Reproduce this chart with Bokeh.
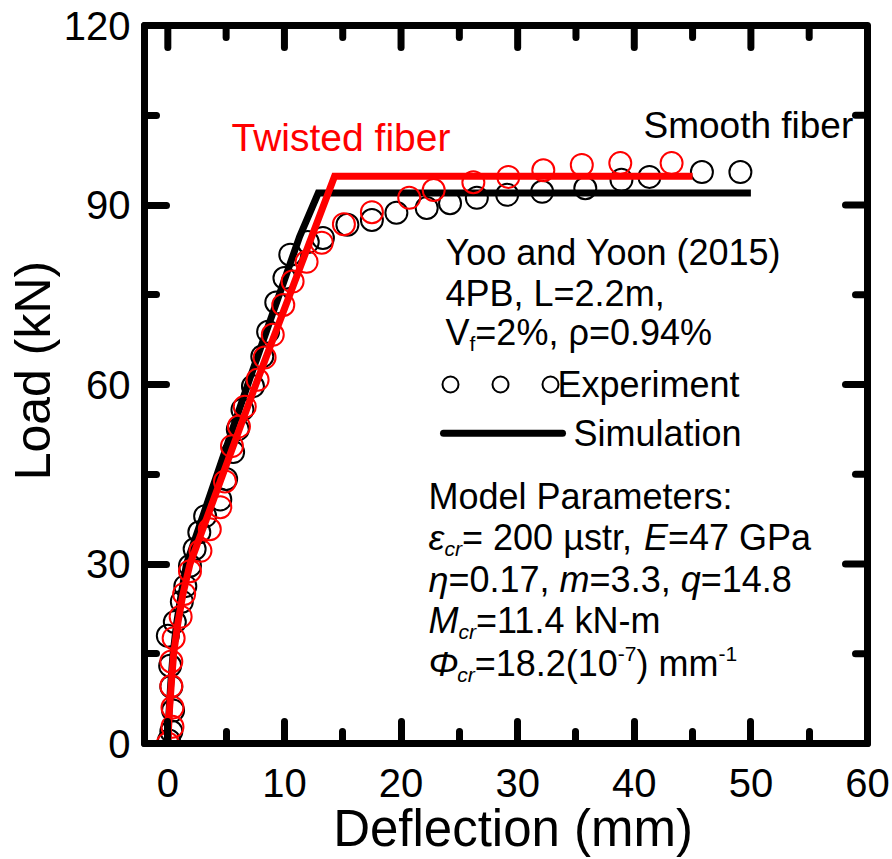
from bokeh.plotting import figure
from bokeh.models import Range1d, FixedTicker, Label
from bokeh.embed import file_html
from bokeh.resources import INLINE

# ---------------- data ----------------
smooth_x = [0.1, 0.3, 0.45, 0.3, 0.2, 0.0, 0.6, 1.2, 1.5, 1.9, 2.3, 2.7, 3.2, 4.5, 5.0, 5.6, 6.0, 6.4, 7.3,
            8.1, 8.6, 9.3, 10.0, 10.5, 12.0, 13.3, 15.4, 17.5, 19.6, 22.2, 24.2, 26.5, 29.1, 32.1, 35.8,
            38.9, 41.3, 45.8, 49.1]
smooth_y = [0.5, 2.0, 5.5, 9.5, 13.0, 18.0, 20.3, 23.7, 26.3, 29.7, 32.5, 35.3, 38.0, 40.8, 44.2, 48.7,
            52.5, 55.8, 59.7, 64.7, 68.8, 73.7, 77.8, 81.7, 83.8, 84.5, 86.7, 87.5, 88.7, 89.5, 90.3,
            91.2, 91.7, 92.2, 92.8, 94.2, 94.7, 95.5, 95.5]

twisted_x = [0, 0.4, 0.4, 0.3, 0.3, 0.5, 1.1, 1.4, 1.9, 2.8, 3.6, 4.5, 4.9, 5.5, 6.1, 6.6, 7.7, 8.3, 9.0,
             9.9, 10.7, 11.9, 13.2, 15.1, 17.5, 20.7, 22.8, 26.2, 29.2, 32.2, 35.5, 38.8, 43.2]
twisted_y = [0, 2.8, 6.0, 9.6, 13.7, 17.6, 21.2, 25.0, 28.8, 32.2, 35.8, 39.5, 43.8, 49.7, 53.0, 56.3,
             60.8, 64.5, 68.3, 73.3, 77.2, 80.5, 83.7, 86.8, 88.8, 91.2, 92.5, 93.8, 94.7, 95.8, 96.7,
             97.0, 97.0]

sim_smooth_x = [0, 0.1, 0.25, 0.45, 0.75, 1.15, 1.6, 7.0, 11.3, 12.9, 50]
sim_smooth_y = [0, 5, 10, 15, 20, 25, 30, 60.8, 84.7, 92, 92]

sim_twisted_x = [0, 0.12, 0.3, 0.5, 0.85, 1.3, 1.9, 7.6, 14.3, 45]
sim_twisted_y = [0, 5, 10, 15, 20, 25, 30, 60.3, 94.8, 94.8]

x_ticks = [0, 10, 20, 30, 40, 50, 60]
y_ticks = [0, 30, 60, 90, 120]
x_lim = (-2, 60)
y_lim = (0, 120)

# ---------------- layout ----------------
FONT = "Liberation Sans"
RED = "#ff0000"
W, H = 892, 859
FL, FT, FW, FH = 144, 25, 723, 720   # frame in canvas px
MAJ, MIN = 22, 12                    # tick lengths (px)
NB = "\u00a0"


def px2x(px):
    return x_lim[0] + (px - FL) * (x_lim[1] - x_lim[0]) / FW


def px2y(py):
    return y_lim[0] + (FT + FH - py) * (y_lim[1] - y_lim[0]) / FH


def minors(ticks):
    return [(a + b) / 2 for a, b in zip(ticks[:-1], ticks[1:])]


p = figure(width=W, height=H, x_range=Range1d(*x_lim), y_range=Range1d(*y_lim),
           output_backend="svg", toolbar_location=None,
           min_border_left=FL, min_border_right=W - FL - FW,
           min_border_top=FT, min_border_bottom=H - FT - FH)
p.xgrid.visible = False
p.ygrid.visible = False
p.outline_line_color = "black"
p.outline_line_width = 7
p.outline_line_join = "round"
p.background_fill_color = "white"
p.border_fill_color = "white"

bottom_ax = p.below[0]
left_ax = p.left[0]
bottom_ax.ticker = FixedTicker(ticks=x_ticks, minor_ticks=minors(x_ticks))
left_ax.ticker = FixedTicker(ticks=y_ticks, minor_ticks=minors(y_ticks))
bottom_ax.axis_label = NB + "Deflection (mm)"
left_ax.axis_label = NB + NB + "Load (kN)"

for ax in [bottom_ax, left_ax]:
    ax.axis_line_color = "black"
    ax.axis_line_width = 7
    ax.major_tick_in = MAJ
    ax.major_tick_out = 0
    ax.minor_tick_in = MIN
    ax.minor_tick_out = 0
    ax.major_tick_line_width = 7
    ax.minor_tick_line_width = 7
    ax.major_tick_line_cap = "round"
    ax.minor_tick_line_cap = "round"
    ax.major_label_text_font = FONT
    ax.major_label_text_font_size = "40px"
    ax.major_label_text_color = "black"
    ax.axis_label_text_font = FONT
    ax.axis_label_text_font_style = "normal"
    ax.axis_label_text_color = "black"

bottom_ax.axis_label_text_font_size = "51px"
left_ax.axis_label_text_font_size = "50px"
bottom_ax.major_label_standoff = 25
left_ax.major_label_standoff = 14
bottom_ax.axis_label_standoff = 0
left_ax.axis_label_standoff = 0

# ticks on the top and right frame edges (pointing inward)
dy_maj = MAJ * (y_lim[1] - y_lim[0]) / FH
dy_min = MIN * (y_lim[1] - y_lim[0]) / FH
dx_maj = MAJ * (x_lim[1] - x_lim[0]) / FW
dx_min = MIN * (x_lim[1] - x_lim[0]) / FW
xm = minors(x_ticks)
ym = minors(y_ticks)
p.segment(x0=x_ticks, y0=[y_lim[1]] * len(x_ticks), x1=x_ticks,
          y1=[y_lim[1] - dy_maj] * len(x_ticks), line_color="black", line_width=7, line_cap="round")
p.segment(x0=xm, y0=[y_lim[1]] * len(xm), x1=xm,
          y1=[y_lim[1] - dy_min] * len(xm), line_color="black", line_width=7, line_cap="round")
p.segment(x0=[x_lim[1]] * len(y_ticks), y0=y_ticks, x1=[x_lim[1] - dx_maj] * len(y_ticks),
          y1=y_ticks, line_color="black", line_width=7, line_cap="round")
p.segment(x0=[x_lim[1]] * len(ym), y0=ym, x1=[x_lim[1] - dx_min] * len(ym),
          y1=ym, line_color="black", line_width=7, line_cap="round")

# ---------------- data marks ----------------
p.scatter(smooth_x, smooth_y, marker="circle", size=22, fill_color=None,
          line_color="black", line_width=2)
p.line(sim_smooth_x, sim_smooth_y, line_color="black", line_width=7, line_join="miter")
p.scatter(twisted_x, twisted_y, marker="circle", size=22, fill_color=None,
          line_color=RED, line_width=2)
p.line(sim_twisted_x, sim_twisted_y, line_color=RED, line_width=7, line_join="miter")

# ---------------- text ----------------
WID = {" ": 278, "%": 889, "(": 333, ")": 333, ",": 278, "-": 333, ".": 278, ":": 278,
       "=": 584, "E": 667, "G": 778, "M": 833, "P": 667, "V": 667, "B": 667, "L": 556,
       "N": 722, "Y": 667, "c": 500, "f": 278, "i": 222, "k": 500, "l": 222, "m": 833,
       "r": 333, "s": 500, "t": 278, "x": 500, "µ": 576, "ρ": 577, "ε": 446, "η": 556,
       "Φ": 797}


def tw(s, size):
    return sum(WID.get(c, 556) for c in s) / 1000.0 * size


def rich(x_px, y_px, pieces, size=36, color="black"):
    cx = x_px
    for txt, kind, italic in pieces:
        if kind == "sub":
            fs, dy = 21, 11
        elif kind == "sup":
            fs, dy = 21, -10
        else:
            fs, dy = size, 0
        p.add_layout(Label(x=px2x(cx), y=px2y(y_px + dy), text=txt, text_font=FONT,
                           text_font_size=f"{fs}px",
                           text_font_style="italic" if italic else "normal",
                           text_baseline="middle", text_align="left", text_color=color))
        cx += tw(txt, fs)


rich(231, 137, [("Twisted fiber", "n", False)], size=39, color=RED)
rich(643, 125, [("Smooth fiber", "n", False)], size=37)
rich(445, 253, [("Yoo and Yoon (2015)", "n", False)])
rich(445, 294, [("4PB, L=2.2m,", "n", False)])
rich(445, 333, [("V", "n", False), ("f", "sub", False), ("=2%, ρ=0.94%", "n", False)])
rich(557, 385, [("Experiment", "n", False)])
rich(573, 434, [("Simulation", "n", False)])

# legend samples
leg_cx = [450, 500, 550]
p.scatter([px2x(v) for v in leg_cx], [px2y(385)] * 3, marker="circle", size=16,
          fill_color=None, line_color="black", line_width=2)
p.line([px2x(443), px2x(562)], [px2y(434)] * 2, line_color="black", line_width=7,
       line_cap="round")

rich(428, 497, [("Model Parameters:", "n", False)])
rich(428, 538, [("ε", "n", True), ("cr", "sub", True), ("= 200 µstr, ", "n", False),
                ("E", "n", True), ("=47 GPa", "n", False)])
rich(428, 581, [("η", "n", True), ("=0.17, ", "n", False), ("m", "n", True),
                ("=3.3, ", "n", False), ("q", "n", True), ("=14.8", "n", False)])
rich(428, 622, [("M", "n", True), ("cr", "sub", True), ("=11.4 kN-m", "n", False)])
rich(428, 665, [("Φ", "n", True), ("cr", "sub", True), ("=18.2(10", "n", False),
                ("-7", "sup", False), (") mm", "n", False), ("-1", "sup", False)])

open("out.html", "w").write(file_html(p, INLINE))
